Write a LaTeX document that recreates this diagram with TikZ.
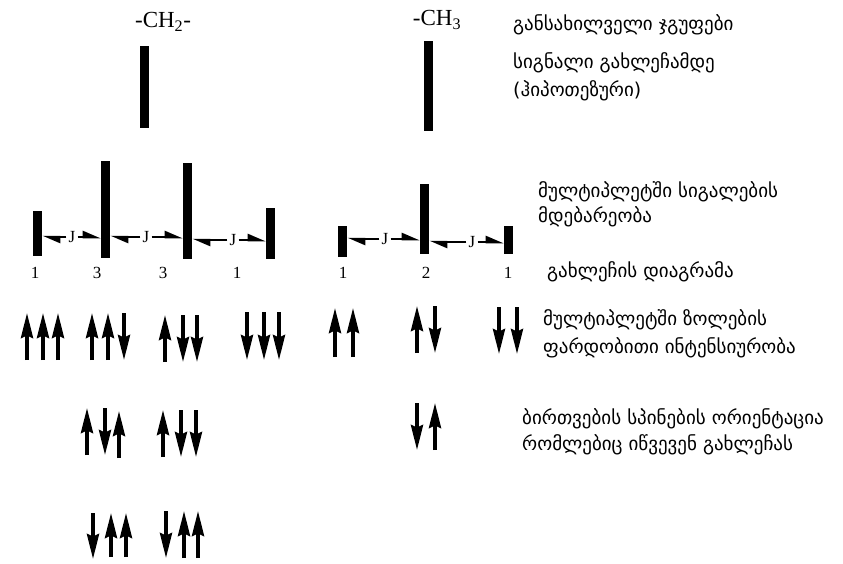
\documentclass[tikz,border=0pt]{standalone}
\usepackage{fontspec}
\setmainfont{Liberation Serif}
\newfontfamily\geofont{DejaVu Sans}
\usetikzlibrary{arrows.meta}
\tikzset{
    bar/.style={fill=black, inner sep=0pt, minimum width=9pt},
    spin/.style={line width=3.5pt, -{Stealth[length=25pt,width=12pt,inset=2.5pt]}},
    jarrow/.style={line width=2.5pt, -{Stealth[harpoon,length=15pt,width=12pt,inset=0pt]}},
    lab/.style={font=\fontsize{17}{20}\selectfont, inner sep=2pt},
    grp/.style={font=\fontsize{23}{28}\selectfont},
    geo/.style={font=\geofont\fontsize{19}{22}\selectfont, anchor=base west, inner sep=0pt}
}
\begin{document}
\begin{tikzpicture}[x=1pt,y=-1pt]
\useasboundingbox (0,0) rectangle (843,563);

% --- groups and hypothetical signals ---
    \node[grp] (ch2) at (163,22) {-CH\textsubscript{2}-};
    \node[grp] (ch3) at (437,20) {-CH\textsubscript{3}};
    \node[bar, minimum height=82pt] (h2) at (144.5,87) {};
    \node[bar, minimum height=90pt] (h3) at (428,86) {};

% --- CH2 multiplet (1:3:3:1) ---
    \node[bar, minimum height=45pt] (a1) at (37.5,233.5) {};
    \node[bar, minimum height=97pt] (a2) at (105.5,209.5) {};
    \node[bar, minimum height=96pt] (a3) at (187.5,211) {};
    \node[bar, minimum height=51pt] (a4) at (270.5,233.5) {};

    \node[lab] (ja1) at (72,237) {J};
    \node[lab] (ja2) at (146,237) {J};
    \node[lab] (ja3) at (233,240) {J};
    \draw[jarrow] (ja1.west) -- (ja1.west -| a1.east);
    \draw[jarrow] (ja1.east) -- (ja1.east -| a2.west);
    \draw[jarrow] (ja2.west) -- (ja2.west -| a2.east);
    \draw[jarrow] (ja2.east) -- (ja2.east -| a3.west);
    \draw[jarrow] (ja3.west) -- (ja3.west -| a3.east);
    \draw[jarrow] (ja3.east) -- (ja3.east -| a4.west);

    \node[lab] (na1) at (35,273) {1};
    \node[lab] (na2) at (97,273) {3};
    \node[lab] (na3) at (163,273) {3};
    \node[lab] (na4) at (237,273) {1};

% --- CH3 multiplet (1:2:1) ---
    \node[bar, minimum height=31pt] (c1) at (342.5,241.5) {};
    \node[bar, minimum height=70pt] (c2) at (424.5,219) {};
    \node[bar, minimum height=28pt] (c3) at (508.5,240) {};

    \node[lab] (jc1) at (385,239) {J};
    \node[lab] (jc2) at (472,242) {J};
    \draw[jarrow] (jc1.west) -- (jc1.west -| c1.east);
    \draw[jarrow] (jc1.east) -- (jc1.east -| c2.west);
    \draw[jarrow] (jc2.west) -- (jc2.west -| c2.east);
    \draw[jarrow] (jc2.east) -- (jc2.east -| c3.west);

    \node[lab] (nc1) at (343,273) {1};
    \node[lab] (nc2) at (426,273) {2};
    \node[lab] (nc3) at (508,273) {1};

% --- spin orientations, CH2 ---
    \draw[spin] (27,360) -- (27,313);
    \draw[spin] (43,360) -- (43,313);
    \draw[spin] (58,360) -- (58,313);

    \draw[spin] (92,360) -- (92,313);
    \draw[spin] (108,360) -- (108,313);
    \draw[spin] (124,313) -- (124,360);

    \draw[spin] (165,362) -- (165,315);
    \draw[spin] (183,315) -- (183,362);
    \draw[spin] (197,315) -- (197,362);

    \draw[spin] (247,312) -- (247,360);
    \draw[spin] (264,312) -- (264,360);
    \draw[spin] (279,312) -- (279,360);

    \draw[spin] (87,455) -- (87,408);
    \draw[spin] (105,408) -- (105,455);
    \draw[spin] (119,458) -- (119,411);

    \draw[spin] (163,457) -- (163,410);
    \draw[spin] (181,410) -- (181,457);
    \draw[spin] (196,410) -- (196,457);

    \draw[spin] (93,513) -- (93,559);
    \draw[spin] (111,557) -- (111,513);
    \draw[spin] (126,557) -- (126,513);

    \draw[spin] (166,511) -- (166,558);
    \draw[spin] (184,558) -- (184,511);
    \draw[spin] (198,558) -- (198,511);

% --- spin orientations, CH3 ---
    \draw[spin] (335,357) -- (335,308);
    \draw[spin] (353,357) -- (353,308);

    \draw[spin] (417,353) -- (417,306);
    \draw[spin] (435,306) -- (435,353);

    \draw[spin] (499,307) -- (499,354);
    \draw[spin] (517,307) -- (517,354);

    \draw[spin] (417,403) -- (417,450);
    \draw[spin] (435,450) -- (435,403);

% --- explanations ---
    \node[geo] (t1) at (513,30) {განსახილველი ჯგუფები};
    \node[geo] (t2) at (513,68) {სიგნალი გახლეჩამდე};
    \node[geo] (t3) at (513,96) {(ჰიპოთეზური)};
    \node[geo] (t4) at (538,197) {მულტიპლეტში სიგალების};
    \node[geo] (t5) at (538,222) {მდებარეობა};
    \node[geo] (t6) at (547,277) {გახლეჩის დიაგრამა};
    \node[geo] (t7) at (543,325) {მულტიპლეტში ზოლების};
    \node[geo] (t8) at (543,353) {ფარდობითი ინტენსიურობა};
    \node[geo] (t9) at (522,424) {ბირთვების სპინების ორიენტაცია};
    \node[geo] (t10) at (522,450) {რომლებიც იწვევენ გახლეჩას};

\end{tikzpicture}
\end{document}
